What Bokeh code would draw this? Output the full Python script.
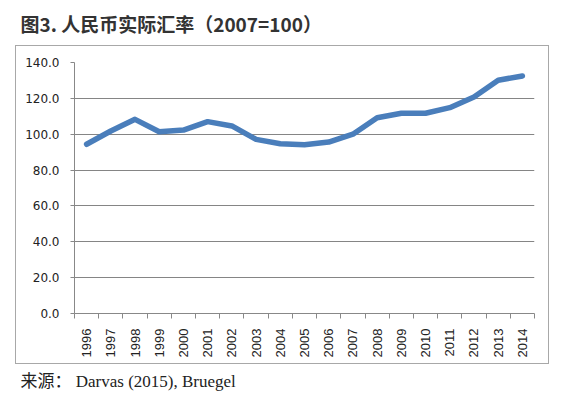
from bokeh.plotting import figure
from bokeh.layouts import column
from bokeh.models import (Title, FixedTicker, NumeralTickFormatter, Range1d,
                          ColumnDataSource)
from bokeh.embed import file_html
from bokeh.resources import INLINE
import math

years = list(range(1996, 2015))
values = [94.4, 101.8, 108.3, 101.4, 102.3, 107.0, 104.6, 97.1, 94.7, 94.1,
          95.6, 100.0, 109.2, 111.7, 111.7, 114.8, 120.8, 130.1, 132.5]
y_ticks = [0, 20, 40, 60, 80, 100, 120, 140]
title_text = "图3. 人民币实际汇率（2007=100）"
source_text = "来源： Darvas (2015), Bruegel"


def text_strip(height, pad_top, title):
    f = figure(width=580, height=height, output_backend="svg", toolbar_location=None,
               x_range=Range1d(0, 1), y_range=Range1d(0, 1),
               x_axis_location=None, y_axis_location=None,
               min_border_left=0, min_border_right=0,
               min_border_top=pad_top, min_border_bottom=0)
    f.outline_line_color = None
    f.xgrid.visible = False
    f.ygrid.visible = False
    f.add_layout(title, "above")
    return f


top = text_strip(45, 36, Title(text=title_text, align="left", offset=-38, standoff=0,
                               vertical_align="bottom",
                               text_font="Noto Sans CJK SC", text_font_size="19px",
                               text_font_style="bold", text_color="#333333"))
bot = text_strip(34, 26, Title(text=source_text, align="left", offset=-38, standoff=0,
                               vertical_align="bottom",
                               text_font="'Liberation Serif', 'Noto Sans CJK SC'",
                               text_font_size="17px", text_font_style="normal",
                               text_color="#222222"))

p = figure(width=534, height=319, output_backend="svg", toolbar_location=None,
           x_range=Range1d(years[0] - 0.5, years[-1] + 0.5),
           y_range=Range1d(0, 140),
           min_border_left=58, min_border_top=16, min_border_right=16,
           min_border_bottom=52)
p.margin = (0, 0, 0, 15)
p.styles = {"border": "1px solid #a8a8a8"}
p.outline_line_color = None

src = ColumnDataSource(dict(x=years, y=values))
p.line("x", "y", source=src, line_color="#4a7ebb", line_width=5.5,
       line_join="round", line_cap="round")

p.yaxis.ticker = FixedTicker(ticks=y_ticks)
p.yaxis.formatter = NumeralTickFormatter(format="0.0")
p.yaxis.major_label_text_font = "DejaVu Sans"
p.yaxis.major_label_text_font_size = "12px"
p.yaxis.major_label_text_color = "#222222"
p.yaxis.axis_line_color = "#888888"
p.yaxis.major_tick_line_color = "#888888"
p.yaxis.major_tick_out = 4
p.yaxis.major_tick_in = 0
p.yaxis.minor_tick_line_color = None
p.yaxis.major_label_standoff = 11

p.xaxis.ticker = FixedTicker(ticks=years,
                             minor_ticks=[y - 0.5 for y in years] + [years[-1] + 0.5])
p.xaxis.major_label_orientation = math.pi / 2
p.xaxis.major_label_text_font = "Liberation Sans"
p.xaxis.major_label_text_font_size = "13px"
p.xaxis.major_label_text_color = "#222222"
p.xaxis.axis_line_color = "#888888"
p.xaxis.major_tick_line_color = None
p.xaxis.major_tick_out = 0
p.xaxis.major_tick_in = 0
p.xaxis.minor_tick_line_color = "#888888"
p.xaxis.minor_tick_out = 5
p.xaxis.minor_tick_in = 0
p.xaxis.major_label_standoff = 10

p.xgrid.grid_line_color = None
p.ygrid.grid_line_color = "#858585"
p.ygrid.ticker = FixedTicker(ticks=y_ticks)

layout = column(top, p, bot, spacing=0)
open("out.html", "w").write(file_html(layout, INLINE))
